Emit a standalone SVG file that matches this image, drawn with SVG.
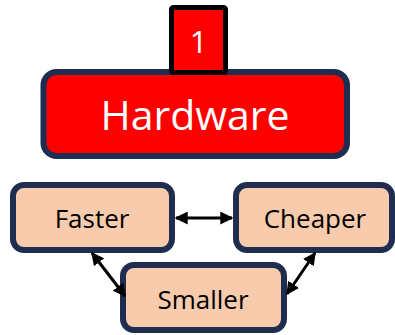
<svg xmlns="http://www.w3.org/2000/svg" width="395" height="335" viewBox="0 0 395 335">
<style>
.box{fill:#F8CBAD;stroke:#1F2D50;stroke-width:6}
.lbl{font-family:"Open Sans","Liberation Sans",sans-serif;font-size:26px;fill:#000;text-anchor:middle}
.conn{stroke:#000;stroke-width:3;fill:none;marker-start:url(#ah);marker-end:url(#ah)}
</style>
<defs>
<marker id="ah" viewBox="0 0 10 10" refX="9" refY="5" markerWidth="13" markerHeight="13" markerUnits="userSpaceOnUse" orient="auto-start-reverse">
<path d="M0,0 L10,5 L0,10 z" fill="#000"/>
</marker>
</defs>
<g id="hardware">
<rect x="43.5" y="72" width="303.5" height="84" rx="13" fill="#FF0000" stroke="#1F2D50" stroke-width="6"/>
<text x="195" y="130" font-family="'Open Sans','Liberation Sans',sans-serif" font-size="41" fill="#fff" text-anchor="middle">Hardware</text>
</g>
<g id="badge">
<rect x="171.5" y="7.5" width="54" height="65" rx="2" fill="#FF0000" stroke="#000" stroke-width="5"/>
<text x="198.5" y="53" font-family="'Open Sans','Liberation Sans',sans-serif" font-size="31" fill="#fff" text-anchor="middle">1</text>
</g>
<g id="faster">
<rect class="box" x="13" y="185" width="159" height="65" rx="11"/>
<text class="lbl" x="92" y="228">Faster</text>
</g>
<g id="cheaper">
<rect class="box" x="236" y="185" width="156" height="65" rx="11"/>
<text class="lbl" x="315" y="228">Cheaper</text>
</g>
<g id="smaller">
<rect class="box" x="123" y="265" width="161" height="65" rx="11"/>
<text class="lbl" x="203" y="309">Smaller</text>
</g>
<g id="connectors">
<line class="conn" x1="176" y1="218" x2="232" y2="218"/>
<line class="conn" x1="92" y1="253" x2="125" y2="296"/>
<line class="conn" x1="315" y1="253" x2="287" y2="294"/>
</g>
</svg>
